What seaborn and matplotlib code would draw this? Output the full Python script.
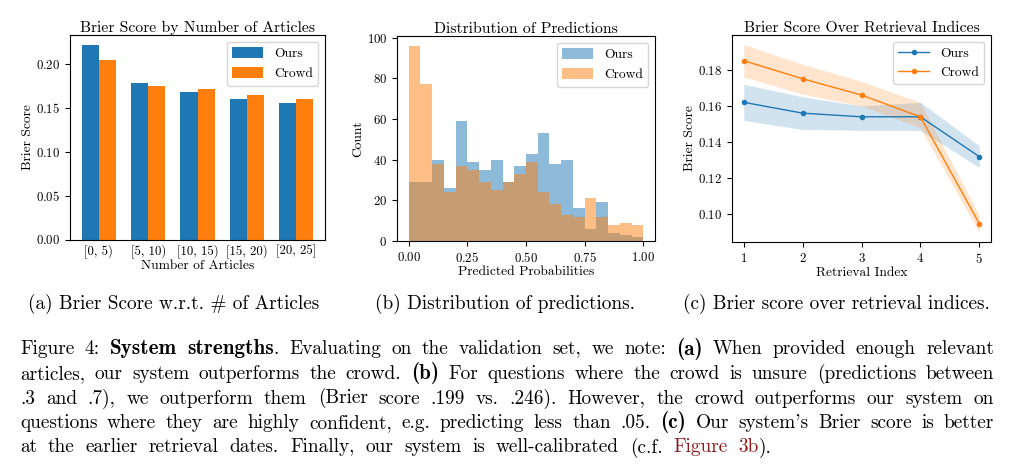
import numpy as np
import pandas as pd
import matplotlib
matplotlib.use("Agg")
import matplotlib.pyplot as plt
import seaborn as sns

# --- data ---
article_bins = ["[0, 5)", "[5, 10)", "[10, 15)", "[15, 20)", "[20, 25]"]
brier_ours = [0.222, 0.178, 0.168, 0.160, 0.156]
brier_crowd = [0.205, 0.175, 0.171, 0.165, 0.160]

hist_edges = [round(0.05 * i, 2) for i in range(21)]
ours_counts = [29, 29, 40, 26, 59, 39, 35, 40, 29, 37, 43, 53, 38, 40, 16, 6, 19, 4, 3, 2]
crowd_counts = [96, 77, 38, 24, 37, 35, 29, 25, 29, 33, 39, 24, 18, 13, 12, 21, 12, 8, 9, 8]

ret_idx = [1, 2, 3, 4, 5]
ret_ours = [0.162, 0.156, 0.154, 0.154, 0.132]
ret_ours_lo = [0.152, 0.147, 0.1465, 0.1465, 0.126]
ret_ours_hi = [0.172, 0.165, 0.160, 0.162, 0.138]
ret_crowd = [0.185, 0.175, 0.166, 0.154, 0.095]
ret_crowd_lo = [0.176, 0.1665, 0.160, 0.148, 0.090]
ret_crowd_hi = [0.194, 0.183, 0.1735, 0.162, 0.0995]

captions = ["(a) Brier Score w.r.t. # of Articles",
            "(b) Distribution of predictions.",
            "(c) Brier score over retrieval indices."]
caption_x = [174, 505, 836]

# *...* = bold, ~...~ = link colour
body = [
    "Figure 4: *System strengths*. Evaluating on the validation set, we note: *(a)* When provided enough relevant",
    "articles, our system outperforms the crowd. *(b)* For questions where the crowd is unsure (predictions between",
    ".3 and .7), we outperform them (Brier score .199 vs. .246). However, the crowd outperforms our system on",
    "questions where they are highly confident, e.g. predicting less than .05. *(c)* Our system's Brier score is better",
    "at the earlier retrieval dates. Finally, our system is well-calibrated (c.f. ~Figure 3b~).",
]

# --- style ---
plt.rcParams["font.family"] = ["cmr10", "DejaVu Serif"]
plt.rcParams["mathtext.fontset"] = "cm"
plt.rcParams["axes.formatter.use_mathtext"] = True
plt.rcParams["axes.unicode_minus"] = False

TITLE = 11.3
LABEL = 9.7
TICK = 9.2
BODY = 13.9
BOLD = 15.2

W, H = 1010, 471
fig = plt.figure(figsize=(W / 100, H / 100), dpi=100)

def px_axes(left, top, right, bottom):
    return fig.add_axes([left / W, 1 - bottom / H, (right - left) / W, (bottom - top) / H])

ax1 = px_axes(70, 35, 325, 239.5)
ax2 = px_axes(397, 36, 655, 241)
ax3 = px_axes(732, 35, 991, 242)

# (a) bars
df_a = pd.DataFrame({
    "bin": article_bins * 2,
    "score": brier_ours + brier_crowd,
    "source": ["Ours"] * len(article_bins) + ["Crowd"] * len(article_bins),
})
sns.barplot(data=df_a, x="bin", y="score", hue="source", palette=["C0", "C1"],
            width=0.7, saturation=1, errorbar=None, ax=ax1)
ax1.set_xlim(-0.585, 4.585)
ax1.set_title("Brier Score by Number of Articles", fontsize=TITLE, pad=2.5)
ax1.set_xlabel("Number of Articles", fontsize=LABEL, labelpad=1)
ax1.set_ylabel("Brier Score", fontsize=LABEL, labelpad=1.5)
ax1.tick_params(axis="x", length=0, labelsize=TICK)
ax1.tick_params(axis="y", labelsize=TICK)
ax1.legend(fontsize=LABEL, loc="upper right", handlelength=2.3, handleheight=0.9)

# (b) histogram
centers = [e + 0.025 for e in hist_edges[:-1]]
df_b = pd.DataFrame({"p": centers, "ours": ours_counts, "crowd": crowd_counts})
sns.histplot(data=df_b, x="p", weights="ours", bins=hist_edges, color="C0", alpha=0.5,
             linewidth=0, label="Ours", ax=ax2)
sns.histplot(data=df_b, x="p", weights="crowd", bins=hist_edges, color="C1", alpha=0.5,
             linewidth=0, label="Crowd", ax=ax2)
ax2.set_title("Distribution of Predictions", fontsize=TITLE, pad=2.5)
ax2.set_xlabel("Predicted Probabilities", fontsize=LABEL, labelpad=1)
ax2.set_ylabel("Count", fontsize=LABEL, labelpad=1.5)
ax2.set_xticks([0, 0.25, 0.5, 0.75, 1.0])
ax2.tick_params(labelsize=TICK)
ax2.legend(fontsize=LABEL, loc="upper right", handlelength=2.3, handleheight=0.9)

# (c) lines with bands
sns.lineplot(x=ret_idx, y=ret_ours, marker="o", markersize=4, markeredgewidth=0,
             linewidth=1, color="C0", label="Ours", ax=ax3)
ax3.fill_between(ret_idx, ret_ours_lo, ret_ours_hi, color="C0", alpha=0.2, linewidth=0)
sns.lineplot(x=ret_idx, y=ret_crowd, marker="o", markersize=4, markeredgewidth=0,
             linewidth=1, color="C1", label="Crowd", ax=ax3)
ax3.fill_between(ret_idx, ret_crowd_lo, ret_crowd_hi, color="C1", alpha=0.2, linewidth=0)
ax3.set_xticks(ret_idx)
ax3.set_title("Brier Score Over Retrieval Indices", fontsize=TITLE, pad=2.5)
ax3.set_xlabel("Retrieval Index", fontsize=LABEL, labelpad=1)
ax3.set_ylabel("Brier Score", fontsize=LABEL, labelpad=1.5)
ax3.tick_params(labelsize=TICK)
ax3.legend(fontsize=LABEL, loc="upper right", handlelength=2.3)

# --- captions and body text ---
for cap, cx in zip(captions, caption_x):
    fig.text(cx / W, 1 - 309 / H, cap, ha="center", va="baseline", fontsize=BODY)

renderer = fig.canvas.get_renderer()
TEXT_LEFT = 20
line_right = [994, 994, 994, 994, 772]
baselines = [354.5, 379, 403.5, 428, 452.5]

def parse(line):
    words, cur, seg = [], [], ""
    bold = red = False
    def flush():
        nonlocal seg
        if seg:
            cur.append((seg, bold, red))
        seg = ""
    for ch in line:
        if ch == "*":
            flush(); bold = not bold
        elif ch == "~":
            flush(); red = not red
        elif ch == " ":
            flush()
            if cur:
                words.append(cur)
            cur = []
        else:
            seg += ch
    flush()
    if cur:
        words.append(cur)
    return words

def seg_kw(bold, red):
    if bold:
        return dict(fontsize=BOLD, family=["cmb10", "DejaVu Serif"], color="black")
    return dict(fontsize=BODY, family=["cmr10", "DejaVu Serif"],
                color="#8b1a1a" if red else "black")

def seg_width(s, bold, red):
    t = fig.text(0, 0, s, **seg_kw(bold, red))
    w = t.get_window_extent(renderer).width
    t.remove()
    return w

for i, line in enumerate(body):
    words = parse(line)
    widths = [[seg_width(*s) for s in w] for w in words]
    total = sum(sum(ws) for ws in widths)
    gap = (line_right[i] - TEXT_LEFT - total) / (len(words) - 1)
    x = TEXT_LEFT
    for w, ws in zip(words, widths):
        for (s, b, r), sw in zip(w, ws):
            fig.text(x / W, 1 - baselines[i] / H, s, va="baseline", **seg_kw(b, r))
            x += sw
        x += gap

fig.savefig("out.png", dpi=100)
